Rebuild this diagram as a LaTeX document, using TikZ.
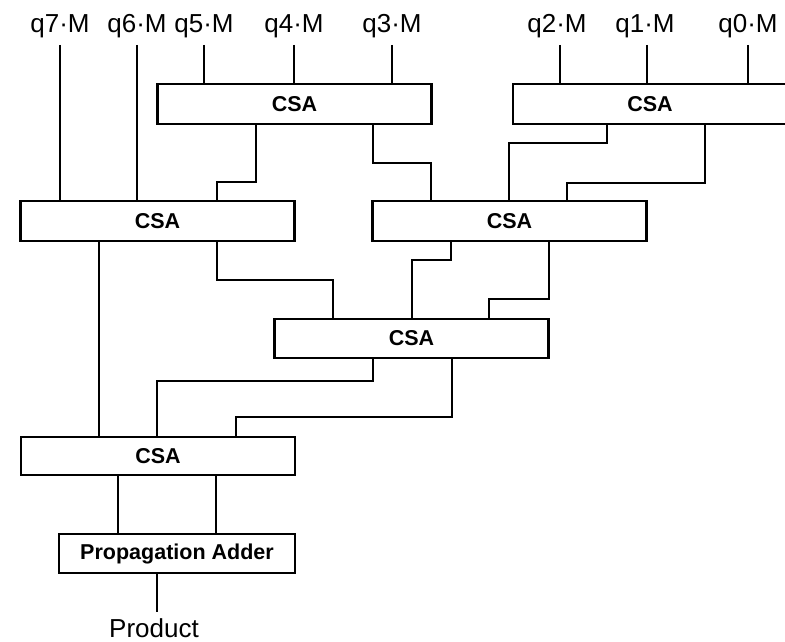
\documentclass[tikz,border=0pt]{standalone}
\usepackage{fontspec}
\setmainfont{Liberation Sans}
\usetikzlibrary{calc}
\begin{document}
\begin{tikzpicture}[x=1pt,y=-1pt,line width=2.7pt,
  csabox/.style={draw,rectangle,minimum width=274pt,minimum height=40pt,inner sep=0pt,font=\fontsize{21.5}{25}\selectfont\bfseries},
  lbl/.style={inner sep=0pt,anchor=base,font=\fontsize{26}{30}\selectfont}]
\useasboundingbox (0,0) rectangle (785,642);
% labels
\node[lbl] (q7) at (60,33) {q7·M};
\node[lbl] (q6) at (137,33) {q6·M};
\node[lbl] (q5) at (204,33) {q5·M};
\node[lbl] (q4) at (294,33) {q4·M};
\node[lbl] (q3) at (392,33) {q3·M};
\node[lbl] (q2) at (557,33) {q2·M};
\node[lbl] (q1) at (645,33) {q1·M};
\node[lbl] (q0) at (748,33) {q0·M};
% boxes
\node[csabox] (csa1) at (294.5,104) {CSA};
\node[csabox] (csa2) at (650,104) {CSA};
\node[csabox] (csa3) at (157.5,221) {CSA};
\node[csabox] (csa4) at (509.5,221) {CSA};
\node[csabox,minimum height=39pt] (csa5) at (411.5,338.5) {CSA};
\node[csabox,minimum height=38pt] (csa6) at (158,456) {CSA};
\node[csabox,minimum width=236pt,minimum height=39pt] (adder) at (177,553.5) {Propagation Adder};
\node[lbl] (prod) at (154,637) {Product};
% inputs
\draw (60,45) -- (csa3.north -| 60,0);
\draw (137,45) -- (csa3.north -| 137,0);
\draw (204,45) -- (csa1.north -| 204,0);
\draw (294,45) -- (csa1.north -| 294,0);
\draw (392,45) -- (csa1.north -| 392,0);
\draw (560,45) -- (csa2.north -| 560,0);
\draw (647,45) -- (csa2.north -| 647,0);
\draw (748,45) -- (csa2.north -| 748,0);
% inter-stage connections
\draw (csa1.south -| 256,0) |- (217,182) -- (csa3.north -| 217,0);
\draw (csa1.south -| 373,0) |- (431,163) -- (csa4.north -| 431,0);
\draw (csa2.south -| 607,0) |- (509,143) -- (csa4.north -| 509,0);
\draw (csa2.south -| 705,0) |- (567,183) -- (csa4.north -| 567,0);
\draw (csa3.south -| 99,0) -- (csa6.north -| 99,0);
\draw (csa3.south -| 217,0) |- (333,280) -- (csa5.north -| 333,0);
\draw (csa4.south -| 451,0) |- (412,260) -- (csa5.north -| 412,0);
\draw (csa4.south -| 549,0) |- (489,299) -- (csa5.north -| 489,0);
\draw (csa5.south -| 373,0) |- (157,381) -- (csa6.north -| 157,0);
\draw (csa5.south -| 452,0) |- (236,417) -- (csa6.north -| 236,0);
\draw (csa6.south -| 118,0) -- (adder.north -| 118,0);
\draw (csa6.south -| 216,0) -- (adder.north -| 216,0);
\draw (adder.south -| 157,0) -- (157,612);
\end{tikzpicture}
\end{document}
